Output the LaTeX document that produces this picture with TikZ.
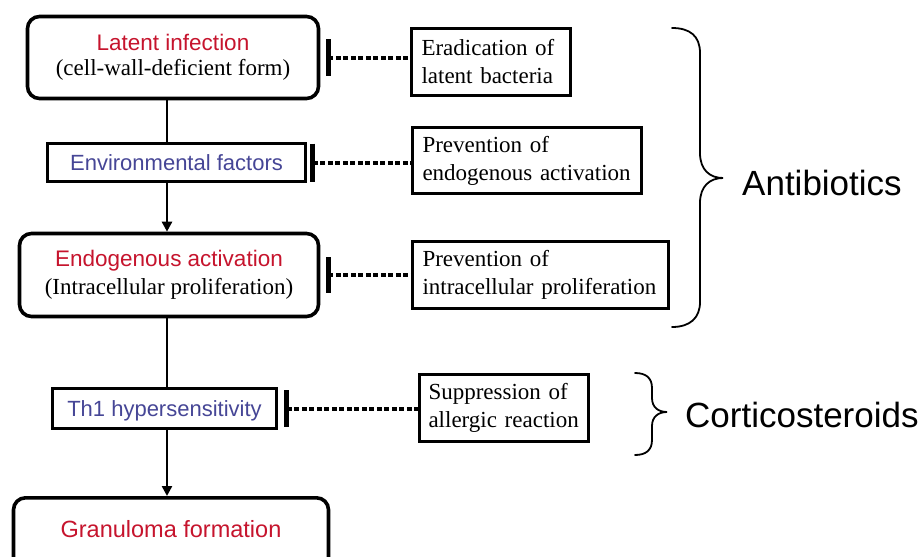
\documentclass[tikz,border=0pt]{standalone}
\usepackage{fontspec}
\setmainfont{Liberation Serif}
\setsansfont{Liberation Sans}
\usetikzlibrary{arrows.meta}
\definecolor{redtxt}{RGB}{198,20,45}
\definecolor{bluetxt}{RGB}{70,70,150}
\begin{document}
\begin{tikzpicture}[x=1pt,y=-1pt,
  stage/.style={draw, line width=3.6pt, rounded corners=12pt, inner sep=0pt, align=center,
    font=\fontsize{22}{27}\selectfont},
  factor/.style={draw, line width=2.8pt, inner sep=0pt, align=center,
    font=\sffamily\fontsize{22}{26}\selectfont, text=bluetxt},
  effect/.style={draw, line width=3pt, inner xsep=10pt, inner ysep=0pt, align=left,
    font=\fontsize{23}{28}\selectfont},
  link/.style={line width=2.4pt},
  linkarrow/.style={link, -{Triangle[length=10pt,width=10pt]}},
  inhib/.style={line width=4pt, dash pattern=on 5pt off 2.5pt},
  tbar/.style={line width=5pt},
  brace/.style={line width=1.8pt, line cap=round},
  drug/.style={font=\sffamily\fontsize{35}{40}\selectfont, anchor=base west, inner sep=0pt}
]
\clip (0,0) rectangle (922,557);
\fill[white] (0,0) rectangle (922,557);

% main pathway
\node[stage, minimum width=291pt, minimum height=82pt] (b1) at (173,57.5)
  {{\sffamily\color{redtxt}\fontsize{22.5}{27}\selectfont Latent infection}\\[-2pt]{\fontsize{23}{27}\selectfont (cell-wall-deficient form)}};
\node[factor, minimum width=258pt, minimum height=38pt] (env) at (176.5,162.5) {Environmental factors};
\node[stage, minimum width=299pt, minimum height=83pt] (endo) at (169,275)
  {{\sffamily\color{redtxt}\fontsize{22.5}{27}\selectfont Endogenous activation}\\[1pt]{\fontsize{23}{27}\selectfont (Intracellular proliferation)}};
\node[factor, minimum width=224pt, minimum height=40pt, text depth=0pt] (th1) at (164.5,408.5) {Th1 hypersensitivity};
\node[stage, minimum width=315pt, minimum height=74pt, anchor=north, text=redtxt,
  font=\sffamily\fontsize{23.5}{27}\selectfont, text height=20pt, text depth=15pt] (gran) at (171,496) {Granuloma formation};

% treatments
\node[effect, minimum height=67pt, text width=139pt] (erad) at (491,62)
  {\mbox{Eradication of}\\\mbox{latent bacteria}};
\node[effect, minimum height=66pt, text width=209pt] (pendo) at (527,160.5)
  {\mbox{Prevention of}\\\mbox{endogenous activation}};
\node[effect, minimum height=67pt, text width=236pt] (pintra) at (540.5,275)
  {\mbox{Prevention of}\\\mbox{intracellular proliferation}};
\node[effect, minimum height=67pt, text width=151pt, inner xsep=9pt] (supp) at (504,408)
  {\mbox{Suppression of}\\\mbox{allergic reaction}};

% connectors
\coordinate (sp) at (167,0);
\draw[link] (b1.south -| sp) -- (env.north -| sp);
\draw[linkarrow] (env.south -| sp) -- (endo.north -| sp);
\draw[link] (endo.south -| sp) -- (th1.north -| sp);
\draw[linkarrow] (th1.south -| sp) -- (gran.north -| sp);

% inhibitions
\coordinate (t1) at ([xshift=8pt]b1.east);
\coordinate (t2) at ([xshift=6pt]env.east);
\coordinate (t3) at ([xshift=8pt]endo.east);
\coordinate (t4) at ([xshift=9pt]th1.east);
\draw[inhib] (t1) -- (t1 -| erad.west);
\draw[inhib] (t2) -- (t2 -| pendo.west);
\draw[inhib] (t3) -- (t3 -| pintra.west);
\draw[inhib] (t4) -- (t4 -| supp.west);
\draw[tbar] (t1) ++(0,-18.5) -- ++(0,37);
\draw[tbar] (t2) ++(0,-19) -- ++(0,38);
\draw[tbar] (t3) ++(0,-18) -- ++(0,36);
\draw[tbar] (t4) ++(0,-18.5) -- ++(0,37);

% braces
\draw[brace] (672,28) .. controls (690,28) and (700,36) .. (700,53) -- (700,153)
  .. controls (700,170) and (710,178) .. (723,178)
  .. controls (710,178) and (700,186) .. (700,203) -- (700,302)
  .. controls (700,318) and (690,327) .. (672,327);
\draw[brace] (635,373) .. controls (646,373) and (652,378) .. (652,388) -- (652,398)
  .. controls (652,407) and (658,412) .. (667,412)
  .. controls (658,412) and (652,417) .. (652,426) -- (652,440)
  .. controls (652,450) and (646,455) .. (635,455);
\node[drug] (abx) at (742,195) {Antibiotics};
\node[drug] (cort) at (685,427) {Corticosteroids};
\end{tikzpicture}
\end{document}
